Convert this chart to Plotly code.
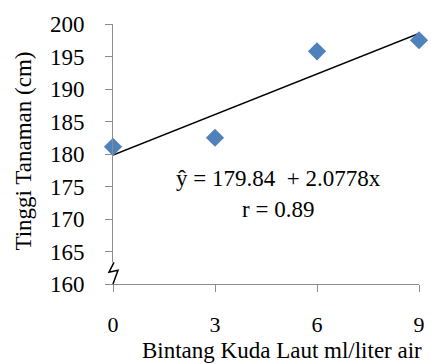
import plotly.graph_objects as go

dose = [0, 3, 6, 9]
height = [181.1, 182.5, 195.8, 197.5]
intercept = 179.84
slope = 2.0778
x_ticks = [0, 3, 6, 9]
y_ticks = [160, 165, 170, 175, 180, 185, 190, 195, 200]

FONT = "Times New Roman"
FS = 23
TFS = 22
AXIS = "#8c8c8c"

line_x = [min(dose), max(dose)]
line_y = [intercept + slope * v for v in line_x]

fig = go.Figure()
fig.add_trace(go.Scatter(x=line_x, y=line_y, mode="lines",
                         line=dict(color="black", width=1.5), showlegend=False,
                         hoverinfo="skip", cliponaxis=False))
fig.add_trace(go.Scatter(x=dose, y=height, mode="markers",
                         marker=dict(symbol="diamond", size=14, color="#4F81BD"),
                         showlegend=False, cliponaxis=False))

fig.update_layout(
    width=446, height=363,
    margin=dict(l=113, r=27, t=19, b=79),
    paper_bgcolor="white", plot_bgcolor="white",
    font=dict(family=FONT, size=FS, color="black"),
    xaxis=dict(range=[0, 9], tickvals=x_ticks, ticktext=[str(v) for v in x_ticks],
               showgrid=False, zeroline=False, showline=True, linecolor=AXIS, linewidth=1,
               ticks="outside", ticklen=7, tickcolor=AXIS, tickwidth=1,
               ticklabelstandoff=14, tickfont=dict(family=FONT, size=TFS, color="black")),
    yaxis=dict(range=[160, 200], tickvals=y_ticks, ticktext=[str(v) for v in y_ticks],
               showgrid=False, zeroline=False, showline=True, linecolor=AXIS, linewidth=1,
               ticks="outside", ticklen=7, tickcolor=AXIS, tickwidth=1,
               ticklabelstandoff=16, tickfont=dict(family=FONT, size=FS, color="black")),
    annotations=[
        dict(text="Bintang Kuda Laut ml/liter air", xref="paper", yref="paper",
             x=(281.7 - 113) / 306, y=-(352 - 284) / 265, xanchor="center", yanchor="middle",
             showarrow=False, font=dict(family=FONT, size=FS)),
        dict(text="Tinggi Tanaman (cm)", xref="paper", yref="paper",
             x=(24 - 113) / 306, y=(284 - 149) / 265, xanchor="center", yanchor="middle",
             textangle=-90, showarrow=False, font=dict(family=FONT, size=FS)),
        dict(text="\u0177 = 179.84 \u00a0+ 2.0778x", xref="paper", yref="paper",
             x=(278 - 113) / 306, y=(284 - 176) / 265, xanchor="center", yanchor="middle",
             showarrow=False, font=dict(family=FONT, size=FS)),
        dict(text="r = 0.89", xref="paper", yref="paper",
             x=(278 - 113) / 306, y=(284 - 208) / 265, xanchor="center", yanchor="middle",
             showarrow=False, font=dict(family=FONT, size=FS)),
    ],
    shapes=[
        dict(type="line", xref="paper", yref="paper", x0=0, x1=0,
             y0=0, y1=(284 - 262) / 265, line=dict(color="white", width=3)),
        dict(type="path", xref="paper", yref="paper",
             path="M {a},{b} L {c},{d} L {e},{f} L {g},{h}".format(
                 a=(114 - 113) / 306, b=(284 - 262) / 265,
                 c=(109 - 113) / 306, d=(284 - 272) / 265,
                 e=(118 - 113) / 306, f=(284 - 270) / 265,
                 g=(113 - 113) / 306, h=0),
             line=dict(color="black", width=1.5)),
    ],
)

fig.write_html("out.html", config={"displayModeBar": False},
               post_script="document.body.style.margin='0';document.body.style.padding='0';")
